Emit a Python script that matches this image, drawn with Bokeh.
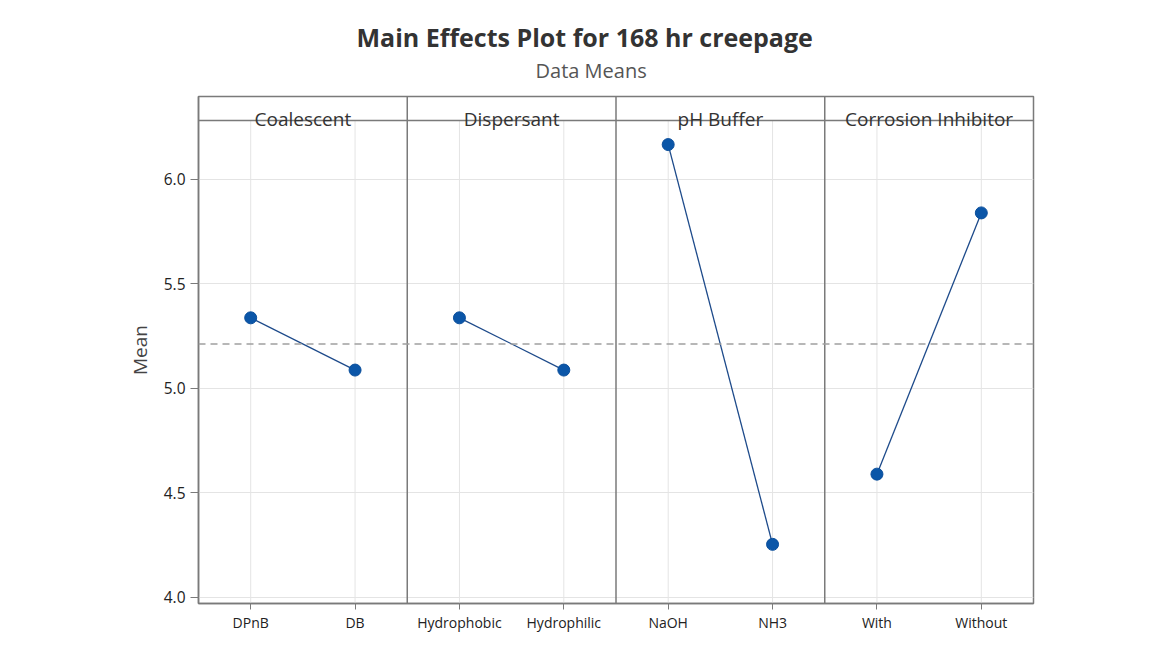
from bokeh.plotting import figure
from bokeh.models import Range1d, FixedTicker, NumeralTickFormatter, Span, Label, Title, ColumnDataSource
from bokeh.embed import file_html
from bokeh.resources import INLINE

# ---- data ----
factors = ["Coalescent", "Dispersant", "pH Buffer", "Corrosion Inhibitor"]
levels = [["DPnB", "DB"], ["Hydrophobic", "Hydrophilic"], ["NaOH", "NH3"], ["With", "Without"]]
coalescent_means = [5.338, 5.088]
dispersant_means = [5.338, 5.088]
ph_buffer_means = [6.167, 4.254]
corrosion_means = [4.590, 5.840]
y_ticks = [4.0, 4.5, 5.0, 5.5, 6.0]

all_means = [coalescent_means, dispersant_means, ph_buffer_means, corrosion_means]
overall_mean = sum(sum(m) for m in all_means) / sum(len(m) for m in all_means)

# ---- layout constants ----
PANEL_W = 4.0
Y_MIN, Y_DATA_TOP, Y_MAX = 3.971, 6.282, 6.397
FONT = "Open Sans"
GRAY = "#7a7a7a"

p = figure(width=1150, height=640, output_backend="svg", toolbar_location=None,
           x_range=Range1d(0, PANEL_W * len(factors)), y_range=Range1d(Y_MIN, Y_MAX),
           min_border_left=198, min_border_right=117, min_border_top=96, min_border_bottom=37)
p.background_fill_color = "white"
p.border_fill_color = "white"
p.outline_line_color = GRAY
p.outline_line_width = 1.5

# grid
p.xgrid.visible = False
p.ygrid.ticker = FixedTicker(ticks=y_ticks)
p.ygrid.grid_line_color = "#e4e4e4"
p.ygrid.grid_line_width = 1

# tick positions & labels
tick_pos = []
overrides = {}
for k, lv in enumerate(levels):
    for i, name in enumerate(lv):
        xpos = k * PANEL_W + 1 + 2 * i
        tick_pos.append(xpos)
        overrides[xpos] = name

# vertical grid lines (only inside the data area, not the header strip)
p.segment(x0=tick_pos, y0=[Y_MIN] * len(tick_pos), x1=tick_pos, y1=[Y_DATA_TOP] * len(tick_pos),
          line_color="#e4e4e4", line_width=1)

# mean reference line
p.add_layout(Span(location=overall_mean, dimension="width", line_color="#a0a0a0",
                  line_width=1.5, line_dash="7 5"))

# panel separators and header line
seps = [k * PANEL_W for k in range(1, len(factors))]
p.segment(x0=seps, y0=[Y_MIN] * len(seps), x1=seps, y1=[Y_MAX] * len(seps),
          line_color=GRAY, line_width=1.5)
p.add_layout(Span(location=Y_DATA_TOP, dimension="width", line_color=GRAY, line_width=1.5))

# data lines & points
for k, means in enumerate(all_means):
    xs = [k * PANEL_W + 1 + 2 * i for i in range(len(means))]
    src = ColumnDataSource(dict(x=xs, y=means))
    p.line("x", "y", source=src, line_color="#1d4a8a", line_width=1.3)
    p.scatter("x", "y", source=src, size=12, fill_color="#0b56a8", line_color="#0b4f9c", line_width=1)

# header labels
for k, f in enumerate(factors):
    p.add_layout(Label(x=k * PANEL_W + PANEL_W / 2, y=Y_DATA_TOP, text=f, text_align="center",
                       text_baseline="alphabetic", y_offset=2, text_font=FONT,
                       text_font_size="19px", text_color="#333333"))

# axes
p.xaxis.ticker = FixedTicker(ticks=tick_pos)
p.xaxis.major_label_overrides = overrides
p.xaxis.major_label_text_font = FONT
p.xaxis.major_label_text_font_size = "14px"
p.xaxis.major_label_text_color = "#222222"
p.xaxis.major_tick_out = 6
p.xaxis.major_tick_in = 0
p.xaxis.minor_tick_line_color = None
p.xaxis.axis_line_color = GRAY
p.xaxis.axis_line_width = 1.5
p.xaxis.major_tick_line_color = GRAY
p.xaxis.major_label_standoff = 3

p.yaxis.ticker = FixedTicker(ticks=y_ticks)
p.yaxis.formatter = NumeralTickFormatter(format="0.0")
p.yaxis.major_label_text_font = FONT
p.yaxis.major_label_text_font_size = "15.5px"
p.yaxis.major_label_text_color = "#222222"
p.yaxis.major_tick_out = 8
p.yaxis.major_tick_in = 0
p.yaxis.minor_tick_line_color = None
p.yaxis.axis_line_color = GRAY
p.yaxis.axis_line_width = 1.5
p.yaxis.major_tick_line_color = GRAY
p.yaxis.axis_label = "Mean"
p.yaxis.axis_label_text_font = FONT
p.yaxis.axis_label_text_font_size = "19px"
p.yaxis.axis_label_text_font_style = "normal"
p.yaxis.axis_label_text_color = "#444444"
p.yaxis.axis_label_standoff = 8

# titles
p.add_layout(Title(text="Data Means", align="left", offset=337, standoff=25,
                   text_font=FONT, text_font_size="20px", text_font_style="normal",
                   text_color="#555555"), "above")
p.add_layout(Title(text="Main Effects Plot for 168 hr creepage", align="left", offset=158,
                   standoff=-22, text_font=FONT, text_font_size="25px", text_font_style="bold",
                   text_color="#333333"), "above")

open("out.html", "w").write(file_html(p, INLINE))
